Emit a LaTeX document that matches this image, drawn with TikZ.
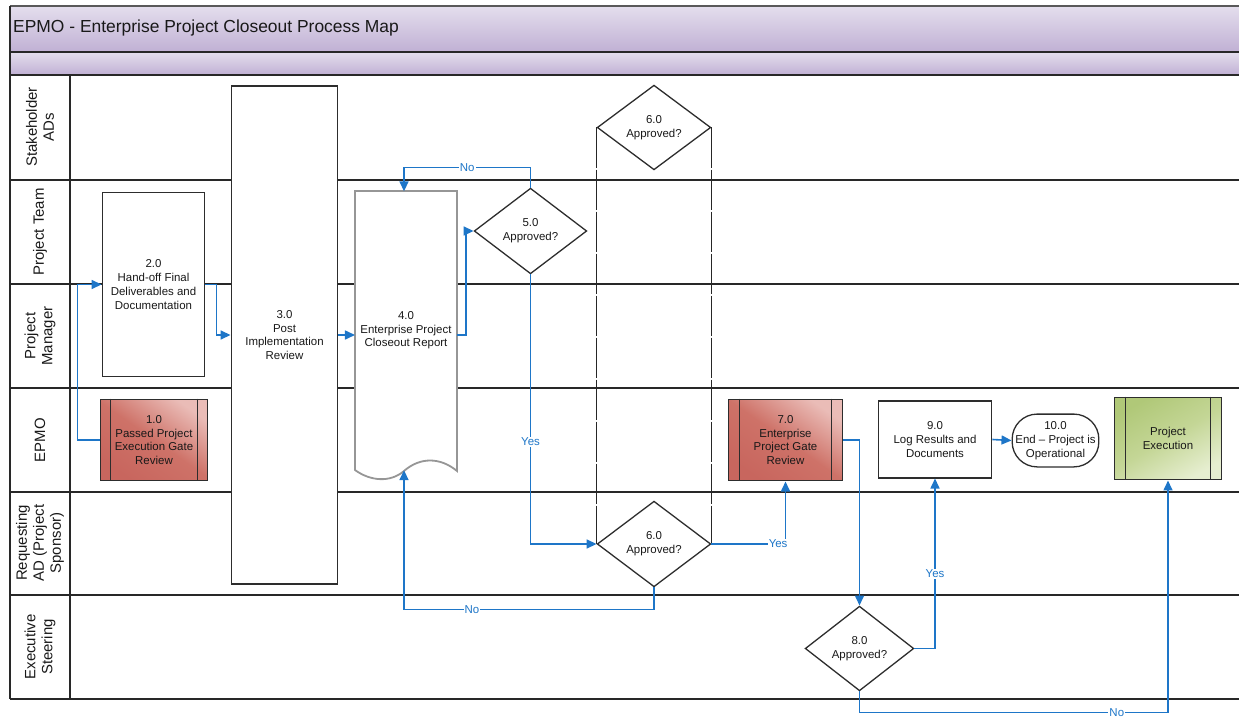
\documentclass[tikz,border=0pt]{standalone}
\usepackage{fontspec}
\setmainfont{Liberation Sans}
\usetikzlibrary{shapes.geometric,arrows.meta}

\definecolor{flowblue}{RGB}{30,118,200}
\definecolor{lanegray}{RGB}{40,40,40}
\definecolor{boxgray}{RGB}{45,45,45}
\definecolor{docgray}{RGB}{150,150,150}
\definecolor{txt}{RGB}{25,25,25}
\definecolor{headlight}{RGB}{228,222,237}
\definecolor{headdark}{RGB}{192,176,212}
\definecolor{redlight}{RGB}{234,188,183}
\definecolor{redmid}{RGB}{206,114,104}
\definecolor{reddark}{RGB}{200,102,94}
\definecolor{greenlight}{RGB}{230,238,208}
\definecolor{greenmid}{RGB}{196,214,150}
\definecolor{greendark}{RGB}{176,200,120}

\newcommand\boxfont{\fontsize{11.5}{13.8}\selectfont}
\newcommand\lanefont{\fontsize{15}{17}\selectfont}

\tikzset{
  lane/.style={draw=lanegray, line width=1.5bp},
  lanelabel/.style={rotate=90, align=center, font=\lanefont, text=txt, inner sep=0},
  box/.style={rectangle, draw=boxgray, line width=1.3bp, fill=white, inner sep=0,
    align=center, font=\boxfont, text=txt},
  gate/.style={rectangle, draw=boxgray, line width=1.3bp, inner sep=0, align=center,
    font=\boxfont, text=txt, top color=redlight, bottom color=reddark,
    middle color=redmid, shading angle=-35},
  golive/.style={rectangle, draw=boxgray, line width=1.3bp, inner sep=0, align=center,
    font=\boxfont, text=txt, top color=greendark, bottom color=greenlight,
    middle color=greenmid, shading angle=30},
  dia/.style={diamond, draw=boxgray, line width=1.3bp, fill=white, inner sep=0,
    align=center, font=\boxfont, text=txt},
  term/.style={rectangle, rounded corners=25bp, draw=boxgray, line width=1.3bp, fill=white,
    inner sep=0, align=center, font=\boxfont, text=txt},
  bar/.style={draw=boxgray, line width=1.3bp},
  grp/.style={draw=black!85, line width=1.5bp, dash pattern=on 40bp off 2bp},
  flow/.style={draw=flowblue, line width=1.6bp, -{Triangle[length=10bp,width=9bp]}},
  lbl/.style={fill=white, text=flowblue, inner sep=1bp, font=\boxfont},
}

\begin{document}
\begin{tikzpicture}[x=1bp, y=-1bp]
\useasboundingbox (0,0) rectangle (1239,719);

% header bands
\shade[top color=headlight, bottom color=headdark] (10,6) rectangle (1239,52);
\shade[top color=headlight, bottom color=headdark] (10,52) rectangle (1239,75);
\draw[draw=black!65, line width=1.5bp] (10,6) -- (1239,6);
\draw[lane] (10,52) -- (1239,52);
\draw[draw=lanegray, line width=2.2bp] (10,75) -- (1239,75);
\draw[lane] (10,6) -- (10,75);
\node[anchor=west, font=\fontsize{17.5}{20}\selectfont, text=txt, inner sep=0] (title) at (13,28)
  {EPMO - Enterprise Project Closeout Process Map};

% swimlanes
\foreach \y in {180,284,388,492,595,699} \draw[lane] (10,\y) -- (1239,\y);
\draw[lane] (10,75) -- (10,699);
\draw[lane] (70,75) -- (70,699);

\node[lanelabel] (l1) at (40,127) {Stakeholder\\ADs};
\node[lanelabel] (l2) at (40,232) {Project Team};
\node[lanelabel] (l3) at (40,336) {Project\\Manager};
\node[lanelabel] (l4) at (40,440) {EPMO};
\node[lanelabel] (l5) at (40,543) {Requesting\\AD (Project\\Sponsor)};
\node[lanelabel] (l6) at (40,647) {Executive\\Steering};

% process steps
\node[gate, minimum width=108, minimum height=82] (n1) at (154,440)
  {1.0\\Passed Project\\Execution Gate\\Review};
\draw[bar] ([xshift=11]n1.north west) -- ([xshift=11]n1.south west);
\draw[bar] ([xshift=-11]n1.north east) -- ([xshift=-11]n1.south east);

\node[box, minimum width=103, minimum height=185] (n2) at (153.5,284.5)
  {2.0\\Hand-off Final\\Deliverables and\\Documentation};

\node[box, minimum width=107, minimum height=500] (n3) at (284.5,335)
  {3.0\\Post\\Implementation\\Review};

% document shape of step 4.0
\draw[draw=docgray, line width=1.8bp, fill=white]
  (355,470) -- (355,191) -- (457,191) -- (457,471)
  .. controls (440,457) and (420,457) .. (404,471)
  .. controls (390,483) and (370,481) .. (355,470) -- cycle;
\node[rectangle, inner sep=0, minimum width=102, minimum height=279, align=center,
  font=\boxfont, text=txt] (n4) at (406,330.5)
  {\raisebox{4bp}{\begin{tabular}{@{}c@{}}4.0\\Enterprise Project\\Closeout Report\end{tabular}}};

\node[dia, minimum width=113, minimum height=86] (n5) at (530.5,231) {5.0\\Approved?};
\node[dia, minimum width=114, minimum height=85] (n6a) at (654,127.5) {6.0\\Approved?};
\node[dia, minimum width=114, minimum height=86] (n6b) at (654,544) {6.0\\Approved?};
\draw[grp] (n6a.west) -- (n6b.west);
\draw[grp] (n6a.east) -- (n6b.east);

\node[gate, minimum width=115, minimum height=82] (n7) at (785.5,440)
  {7.0\\Enterprise\\Project Gate\\Review};
\draw[bar] ([xshift=12]n7.north west) -- ([xshift=12]n7.south west);
\draw[bar] ([xshift=-12]n7.north east) -- ([xshift=-12]n7.south east);

\node[dia, minimum width=109, minimum height=85] (n8) at (859.5,648.5) {8.0\\Approved?};

\node[box, minimum width=114, minimum height=77] (n9) at (935,439.5)
  {9.0\\Log Results and\\Documents};

\node[term, minimum width=87, minimum height=53] (n10) at (1055.5,440.5)
  {10.0\\End -- Project is\\Operational};

\node[golive, minimum width=108, minimum height=83] (pe) at (1168,438.5)
  {Project\\Execution};
\draw[bar] ([xshift=12]pe.north west) -- ([xshift=12]pe.south west);
\draw[bar] ([xshift=-12]pe.north east) -- ([xshift=-12]pe.south east);

% connectors
\draw[flow] (n1.west) -- ++(-22,0) |- (n2.west);
\draw[flow] (n2.east) -- ++(11,0) |- (n3.west);
\draw[flow] (n3.east) -- (n3.east -| n4.west);
\draw[flow] (n4.east |- n3.east) -- ++(9,0) |- (n5.west);
\draw[flow] (n5.north) -- ++(0,-20) -| node[lbl, pos=0.25] {No} ([xshift=-2]n4.north);
\draw[flow] (n5.south) |- node[lbl, pos=0.31] {Yes} (n6b.west);
\draw[flow] (n6b.east) -| node[lbl, pos=0.45] {Yes} (n7.south);
\draw[flow] (n6b.south) -- ++(0,22) -| node[lbl, pos=0.364] {No} ([xshift=-2,yshift=-0.5]n4.south);
\draw[flow] (n7.east) -| (n8.north);
\draw[flow] (n8.east) -| node[lbl, pos=0.72] {Yes} (n9.south);
\draw[flow] (n8.south) -- ++(0,21) -| node[lbl, pos=0.417] {No} (pe.south);
\draw[flow] (n9.east) -- (n10.west);
\end{tikzpicture}
\end{document}
